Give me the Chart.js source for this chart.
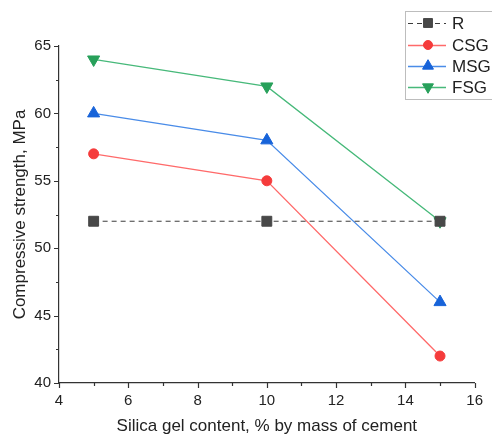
<!DOCTYPE html>
<html>
<head>
<meta charset="utf-8">
<script src="https://cdn.jsdelivr.net/npm/chart.js@4/dist/chart.umd.min.js"></script>
<style>
  html, body { margin: 0; padding: 0; background: #ffffff; }
  #wrap { width: 492px; height: 437px; }
</style>
</head>
<body>
<div id="wrap"><canvas id="c" width="492" height="437"></canvas></div>
<script>
// Silica gel content (% by mass of cement)
const silicaContent = [5, 10, 15];

// Compressive strength (MPa) per mix
const strengthR   = [52, 52, 52];
const strengthCSG = [57, 55, 42];
const strengthMSG = [60, 58, 46];
const strengthFSG = [64, 62, 52];

const seriesLabels = ['R', 'CSG', 'MSG', 'FSG'];

// Axis ranges and tick spacing
const xRange = { min: 4, max: 16, major: 2, minor: 1 };
const yRange = { min: 40, max: 65, major: 5, minor: 2.5 };

const FONT = "'Liberation Sans', Arial, sans-serif";
const AXIS_COLOR = '#333333';
const TEXT_COLOR = '#222222';

function toPoints(values) {
  return silicaContent.map((x, i) => ({ x: x, y: values[i] }));
}

const datasets = [
  {
    label: seriesLabels[0], data: toPoints(strengthR),
    borderColor: '#3c3c3c', borderWidth: 1, borderDash: [5, 4],
    pointStyle: 'rect', pointRadius: 7, pointRotation: 0,
    pointBackgroundColor: '#484848', pointBorderColor: '#484848', pointBorderWidth: 1
  },
  {
    label: seriesLabels[1], data: toPoints(strengthCSG),
    borderColor: '#ff6a6a', borderWidth: 1.3,
    pointStyle: 'circle', pointRadius: 5, pointRotation: 0,
    pointBackgroundColor: '#f53b3b', pointBorderColor: '#f53b3b', pointBorderWidth: 1
  },
  {
    label: seriesLabels[2], data: toPoints(strengthMSG),
    borderColor: '#4a8ce8', borderWidth: 1.3,
    pointStyle: 'triangle', pointRadius: 7, pointRotation: 0,
    pointBackgroundColor: '#1763d9', pointBorderColor: '#1763d9', pointBorderWidth: 1
  },
  {
    label: seriesLabels[3], data: toPoints(strengthFSG),
    borderColor: '#47b97a', borderWidth: 1.3,
    pointStyle: 'triangle', pointRadius: 7, pointRotation: 180,
    pointBackgroundColor: '#27a05a', pointBorderColor: '#27a05a', pointBorderWidth: 1
  }
];
datasets.forEach(d => { d.fill = false; d.tension = 0; d.pointHoverRadius = d.pointRadius; });

// Draws a marker shape centred at (x, y)
function drawMarker(ctx, style, r, rotation, x, y, fill, stroke) {
  ctx.save();
  ctx.fillStyle = fill;
  ctx.strokeStyle = stroke;
  ctx.lineWidth = 1;
  ctx.translate(x, y);
  ctx.rotate(rotation * Math.PI / 180);
  ctx.beginPath();
  if (style === 'rect') {
    const s = Math.SQRT1_2 * r;
    ctx.rect(-s, -s, 2 * s, 2 * s);
  } else if (style === 'triangle') {
    ctx.moveTo(0, -r);
    ctx.lineTo(r * Math.sin(2 * Math.PI / 3), -r * Math.cos(2 * Math.PI / 3));
    ctx.lineTo(r * Math.sin(4 * Math.PI / 3), -r * Math.cos(4 * Math.PI / 3));
    ctx.closePath();
  } else {
    ctx.arc(0, 0, r, 0, Math.PI * 2);
  }
  ctx.fill();
  ctx.stroke();
  ctx.restore();
}

// Outward major and minor tick marks on both axes
const tickMarks = {
  id: 'tickMarks',
  afterDraw(chart) {
    const ctx = chart.ctx;
    const xs = chart.scales.x, ys = chart.scales.y;
    const area = chart.chartArea;
    ctx.save();
    ctx.strokeStyle = AXIS_COLOR;
    ctx.lineWidth = 1.2;
    ctx.beginPath();
    for (let v = xRange.min; v <= xRange.max + 1e-9; v += xRange.minor) {
      const px = Math.round(xs.getPixelForValue(v)) + 0.5;
      const major = Math.abs((v - xRange.min) % xRange.major) < 1e-9;
      ctx.moveTo(px, area.bottom);
      ctx.lineTo(px, area.bottom + (major ? 5 : 3));
    }
    for (let v = yRange.min; v <= yRange.max + 1e-9; v += yRange.minor) {
      const py = Math.round(ys.getPixelForValue(v)) + 0.5;
      const major = Math.abs((v - yRange.min) % yRange.major) < 1e-9;
      ctx.moveTo(area.left, py);
      ctx.lineTo(area.left - (major ? 5 : 3), py);
    }
    ctx.stroke();
    ctx.restore();
  }
};

// Boxed legend in the upper right
const boxLegend = {
  id: 'boxLegend',
  afterDraw(chart) {
    const ctx = chart.ctx;
    const box = { x: 405.5, y: 11.5, w: 100, h: 88 };
    const rowY = [23, 45, 66, 87];
    ctx.save();
    ctx.fillStyle = '#ffffff';
    ctx.fillRect(box.x, box.y, box.w, box.h);
    ctx.strokeStyle = '#bdbdbd';
    ctx.lineWidth = 1;
    ctx.strokeRect(box.x, box.y, box.w, box.h);
    chart.data.datasets.forEach((d, i) => {
      const y = rowY[i];
      ctx.save();
      ctx.strokeStyle = d.borderColor;
      ctx.lineWidth = d.borderWidth;
      ctx.setLineDash(d.borderDash || []);
      ctx.beginPath();
      ctx.moveTo(408, y + 0.5);
      ctx.lineTo(446, y + 0.5);
      ctx.stroke();
      ctx.restore();
      drawMarker(ctx, d.pointStyle, d.pointRadius * 0.9, d.pointRotation, 428, y,
                 d.pointBackgroundColor, d.pointBorderColor);
      ctx.fillStyle = TEXT_COLOR;
      ctx.font = '17px ' + FONT;
      ctx.textBaseline = 'middle';
      ctx.textAlign = 'left';
      ctx.fillText(d.label, 452, y + 1);
    });
    ctx.restore();
  }
};

new Chart(document.getElementById('c'), {
  type: 'line',
  data: { datasets: datasets },
  options: {
    responsive: false,
    animation: false,
    devicePixelRatio: 1,
    layout: { padding: { top: 46, right: 15, left: 0, bottom: 0 } },
    plugins: { legend: { display: false }, tooltip: { enabled: false } },
    scales: {
      x: {
        type: 'linear', min: xRange.min, max: xRange.max,
        afterFit(scale) { scale.height = 54; },
        ticks: { stepSize: xRange.major, padding: 9, color: TEXT_COLOR,
                 font: { family: FONT, size: 15 }, maxRotation: 0 },
        grid: { display: true, drawOnChartArea: false, drawTicks: false },
        border: { display: true, color: AXIS_COLOR, width: 1.2 },
        title: { display: true, text: 'Silica gel content, % by mass of cement',
                 color: TEXT_COLOR, font: { family: FONT, size: 17 }, padding: { top: -1, bottom: 0 } }
      },
      y: {
        type: 'linear', min: yRange.min, max: yRange.max,
        afterFit(scale) { scale.width = 59; },
        ticks: { stepSize: yRange.major, padding: 8, color: TEXT_COLOR,
                 font: { family: FONT, size: 15 } },
        grid: { display: true, drawOnChartArea: false, drawTicks: false },
        border: { display: true, color: AXIS_COLOR, width: 1.2 },
        title: { display: true, text: 'Compressive strength, MPa',
                 color: TEXT_COLOR, font: { family: FONT, size: 17 }, padding: { top: 10, bottom: 0 } }
      }
    }
  },
  plugins: [tickMarks, boxLegend]
});
</script>
</body>
</html>
